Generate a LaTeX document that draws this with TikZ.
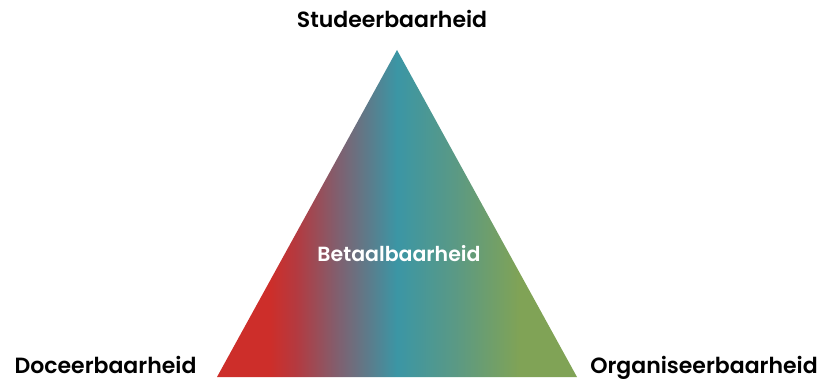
\documentclass[tikz,border=0pt]{standalone}
\usepackage{fontspec}
\setmainfont{Poppins}[UprightFont=* SemiBold]
\definecolor{cred}{HTML}{CD2E2A}
\definecolor{cred2}{HTML}{B43A40}
\definecolor{cpurple}{HTML}{7E6171}
\definecolor{cteal}{HTML}{3B96A5}
\definecolor{cgt}{HTML}{5A9985}
\definecolor{cgreen}{HTML}{80A356}
\pgfdeclarehorizontalshading{tri}{100bp}{color(0bp)=(cred); color(32.4bp)=(cred); color(36bp)=(cred2); color(42bp)=(cpurple); color(50bp)=(cteal); color(58bp)=(cgt); color(67bp)=(cgreen); color(100bp)=(cgreen)}
\tikzset{lbl/.style={anchor=base, inner sep=0pt, font=\fontsize{22}{26}\selectfont, text=black}}
\begin{document}
\begin{tikzpicture}[x=1pt,y=-1pt]
\useasboundingbox (0,0) rectangle (827,379);
\coordinate (apex) at (397,50);
\coordinate (bl) at (217,377);
\coordinate (br) at (577,377);
\shade[shading=tri] (apex) -- (br) -- (bl) -- cycle;
\node[lbl] (stud) at (392,28) {Studeerbaarheid};
\node[lbl] (doc) at (105.5,373) {Doceerbaarheid};
\node[lbl] (org) at (704,373) {Organiseerbaarheid};
\node[lbl, text=white, font=\fontsize{20.5}{24}\selectfont] (bet) at (399,262) {Betaalbaarheid};
\end{tikzpicture}
\end{document}
